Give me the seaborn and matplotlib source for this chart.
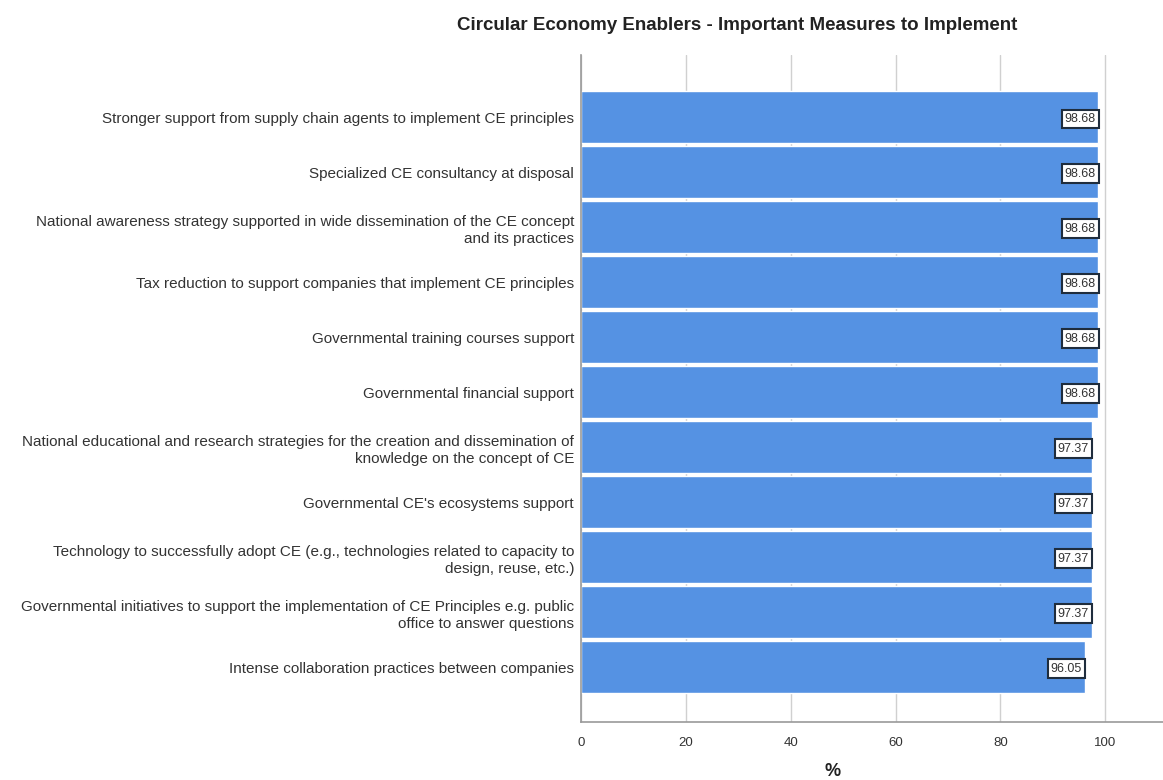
import matplotlib
matplotlib.use("Agg")
import matplotlib.pyplot as plt
import seaborn as sns
import pandas as pd

# Data
measures = [
    "Stronger support from supply chain agents to implement CE principles",
    "Specialized CE consultancy at disposal",
    "National awareness strategy supported in wide dissemination of the CE concept\nand its practices",
    "Tax reduction to support companies that implement CE principles",
    "Governmental training courses support",
    "Governmental financial support",
    "National educational and research strategies for the creation and dissemination of\nknowledge on the concept of CE",
    "Governmental CE's ecosystems support",
    "Technology to successfully adopt CE (e.g., technologies related to capacity to\ndesign, reuse, etc.)",
    "Governmental initiatives to support the implementation of CE Principles e.g. public\noffice to answer questions",
    "Intense collaboration practices between companies",
]
percent = [98.68, 98.68, 98.68, 98.68, 98.68, 98.68, 97.37, 97.37, 97.37, 97.37, 96.05]
x_ticks = [0, 20, 40, 60, 80, 100]

df = pd.DataFrame({"measure": measures, "percent": percent})

sns.set_style("white")
plt.rcParams["font.family"] = ["Liberation Sans", "DejaVu Sans"]

fig = plt.figure(figsize=(11.63, 7.8), dpi=100)
ax = fig.add_axes([581 / 1163, 1 - 722 / 780, 1 - 581 / 1163, (722 - 55) / 780])

sns.barplot(data=df, x="percent", y="measure", color="#5592e3", width=0.95,
            saturation=1, ax=ax, zorder=2)

# value boxes at the end of each bar
for p, v in zip(ax.patches, percent):
    ax.text(v - 0.5, p.get_y() + p.get_height() / 2, f"{v:.2f}",
            ha="right", va="center_baseline", fontsize=9, color="#333333", zorder=3,
            bbox=dict(boxstyle="square,pad=0.25", fc="white", ec="#1f2d3d", lw=1.5))

ax.set_xlim(0, 111)
ax.set_ylim(11.0, -1.13)
ax.set_xticks(x_ticks)
ax.xaxis.grid(True, color="#d0d0d0", lw=1, zorder=0)
ax.set_axisbelow(True)
for s in ["top", "right"]:
    ax.spines[s].set_visible(False)
for s in ["left", "bottom"]:
    ax.spines[s].set_color("#999999")
    ax.spines[s].set_linewidth(1.2)

ax.tick_params(axis="x", labelsize=9.5, colors="#333333", length=0, pad=11)
ax.tick_params(axis="y", labelsize=11, colors="#333333", length=0, pad=5)
for lbl in ax.get_yticklabels():
    lbl.set_multialignment("right")
    lbl.set_linespacing(1.3)
ax.set_ylabel("")
ax.set_xlabel("")

fig.text(833 / 1163, 1 - 772 / 780, "%", ha="center", va="center",
         fontsize=13, fontweight="bold", color="#222222")
fig.text(737 / 1163, 1 - 25 / 780, "Circular Economy Enablers - Important Measures to Implement",
         ha="center", va="center", fontsize=13.5, fontweight="bold", color="#222222")

fig.savefig("out.png", dpi=100)
